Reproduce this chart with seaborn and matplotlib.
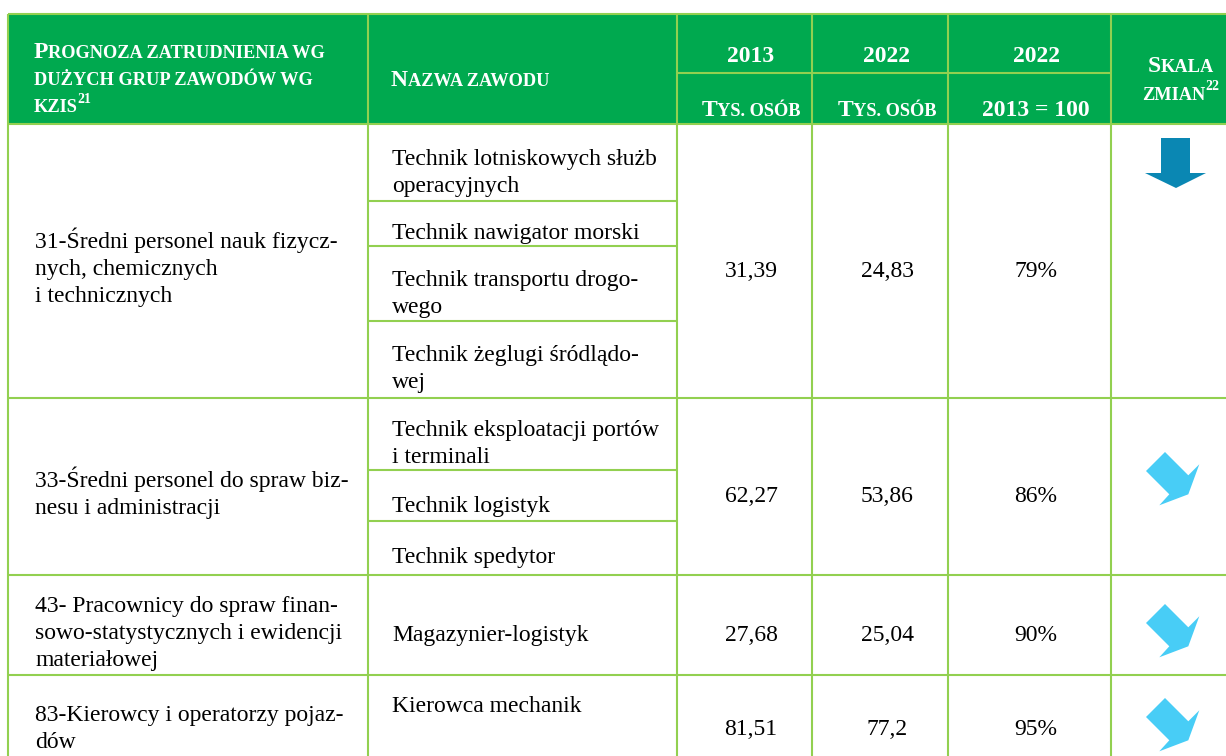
import matplotlib
matplotlib.use("Agg")
import matplotlib.pyplot as plt
from matplotlib.patches import Rectangle, Polygon
import seaborn as sns

# ---- table content ----
groups = [
    ["31-Średni personel nauk fizycz-", "nych, chemicznych", "i technicznych"],
    ["33-Średni personel do spraw biz-", "nesu i administracji"],
    ["43- Pracownicy do spraw finan-", "sowo-statystycznych i ewidencji", "materiałowej"],
    ["83-Kierowcy i operatorzy pojaz-", "dów"],
]
occupations = [
    [["Technik lotniskowych służb", "operacyjnych"], ["Technik nawigator morski"],
     ["Technik transportu drogo-", "wego"], ["Technik żeglugi śródlądo-", "wej"]],
    [["Technik eksploatacji portów", "i terminali"], ["Technik logistyk"], ["Technik spedytor"]],
    [["Magazynier-logistyk"]],
    [["Kierowca mechanik"]],
]
emp_2013 = [31.39, 62.27, 27.68, 81.51]
emp_2022 = [24.83, 53.86, 25.04, 77.2]
index_2022 = [79, 86, 90, 95]
trend = ["down", "down-right", "down-right", "down-right"]

head_col1 = ["Prognoza zatrudnienia wg", "dużych grup zawodów wg", "kzis"]
head_col2 = "Nazwa zawodu"
head_years = ["2013", "2022", "2022"]
head_units = ["Tys. osób", "Tys. osób", "2013 = 100"]
head_scale = ["Skala", "zmian"]
footnotes = ["21", "22"]

# ---- layout (pixels) ----
W, H = 1226, 756
col_x = [8, 368, 677, 812, 948, 1111, W]
head_y = [14, 73, 124]
row_y = [124, 398, 575, 675, H]
sub_y = [[124, 201, 246, 321, 398], [398, 470, 521, 575], [575, 675], [675, H]]
group_base = [248, 487, 612, 721]
occ_base = [[165, 239, 286, 361], [436, 512, 563], [641], [712]]
val_base = [277, 502, 641, 735]
val_cx = [751, 887, 1036]
arrow_pos = [(1145, 138), (1146, 452), (1146, 604), (1146, 698)]
LS = 27

GREEN = "#00A94F"
LINE = "#92D050"
C_DOWN = "#0A87B3"
C_DIAG = "#48CDF6"

BIG = 17.0
SMALL = 13.2
SUP = 10.0

sns.set_theme(style="white")
plt.rcParams["font.family"] = ["Liberation Serif", "DejaVu Serif"]

fig = plt.figure(figsize=(W / 100, H / 100), dpi=100)
ax = fig.add_axes([0, 0, 1, 1])
ax.set_xlim(0, W)
ax.set_ylim(H, 0)
ax.axis("off")
renderer = fig.canvas.get_renderer()


def caps_runs(text):
    # small caps: real capitals/digits big, lower case letters as small capitals
    runs = []
    size = SMALL
    for ch in text:
        if ch.isalpha():
            size = BIG if ch.isupper() else SMALL
            c = ch.upper()
        elif ch.isdigit() or ch == "=":
            size = BIG
            c = ch
        else:
            c = ch
        if runs and runs[-1][1] == size:
            runs[-1][0] += c
        else:
            runs.append([c, size, 0, 0])
    return runs


def draw_runs(x, y, runs, ha="left"):
    texts, widths = [], []
    for s, size, dy, dx in runs:
        t = ax.text(0, y - dy, s, fontsize=size, fontweight="bold", color="white",
                    va="baseline", ha="left")
        texts.append(t)
        widths.append(t.get_window_extent(renderer).width + dx)
    x0 = x - sum(widths) / 2 if ha == "center" else x
    for t, w, r in zip(texts, widths, runs):
        t.set_x(x0 + r[3])
        x0 += w


# header background
ax.add_patch(Rectangle((col_x[0], head_y[0]), W - col_x[0], head_y[2] - head_y[0],
                       facecolor=GREEN, edgecolor="none", zorder=0))

# header text
for i, line in enumerate(head_col1):
    runs = caps_runs(line)
    if i == 2:
        runs.append([footnotes[0], SUP, 9, 0])
    draw_runs(34, 58 + i * 27, runs)
draw_runs(391, 86, caps_runs(head_col2))
for cx, yr, un in zip(val_cx, head_years, head_units):
    draw_runs(cx, 62, caps_runs(yr), ha="center")
    draw_runs(cx, 116, caps_runs(un), ha="center")
draw_runs(1181, 72, caps_runs(head_scale[0]), ha="center")
draw_runs(1181, 100, caps_runs(head_scale[1]) + [[footnotes[1], SUP, 10, 0]], ha="center")

# grid lines
lw = 1.5
ax.hlines(head_y[0], col_x[0], W, color=LINE, lw=lw)
ax.hlines(head_y[1], col_x[2], col_x[5], color=LINE, lw=lw)
ax.hlines(row_y[:-1], col_x[0], W, color=LINE, lw=lw)
ax.vlines(col_x[:-1], head_y[0], H, color=LINE, lw=lw)
for subs in sub_y:
    for y in subs[1:-1]:
        ax.hlines(y, col_x[1], col_x[2], color=LINE, lw=lw)

# body text
body = dict(fontsize=BIG, color="black", va="baseline")
for r in range(len(groups)):
    for k, line in enumerate(groups[r]):
        ax.text(35, group_base[r] + k * LS, line, ha="left", **body)
    for j, occ in enumerate(occupations[r]):
        for k, line in enumerate(occ):
            ax.text(392, occ_base[r][j] + k * LS, line, ha="left", **body)
    vals = [str(emp_2013[r]).replace(".", ","), str(emp_2022[r]).replace(".", ","),
            f"{index_2022[r]}%"]
    for cx, v in zip(val_cx, vals):
        ax.text(cx, val_base[r], v, ha="center", **body)

# trend arrows
down_shape = [(16, 0), (45, 0), (45, 35), (61, 35), (31, 50), (0, 35), (16, 35)]
diag_shape = [(0, 19), (19, 0), (42.3, 23.3), (53.3, 12.3), (42.3, 42.3),
              (13.3, 53.3), (23.3, 42.3)]
for (ox, oy), tr in zip(arrow_pos, trend):
    shape = down_shape if tr == "down" else diag_shape
    color = C_DOWN if tr == "down" else C_DIAG
    ax.add_patch(Polygon([(ox + px, oy + py) for px, py in shape], closed=True,
                         facecolor=color, edgecolor="none", zorder=3))

fig.savefig("out.png", dpi=100)
